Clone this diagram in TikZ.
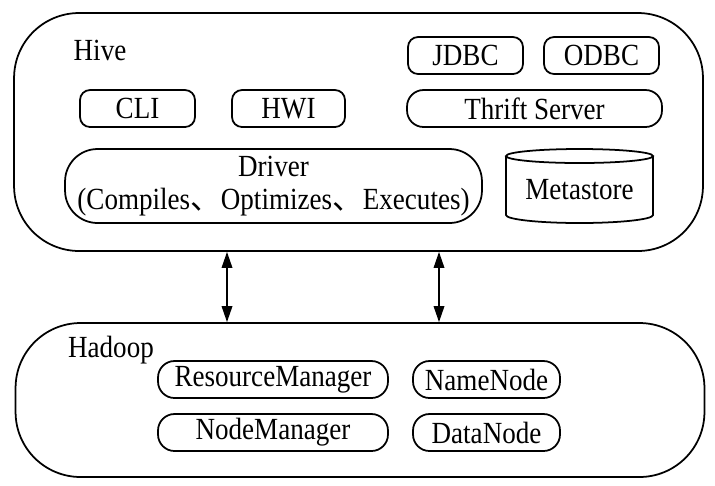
\documentclass[tikz,border=0pt]{standalone}
\usepackage{fontspec}
\setmainfont{Liberation Serif}[FakeStretch=0.88]
\newfontfamily\cjk{Noto Sans CJK SC}
\usetikzlibrary{arrows.meta}

\begin{document}
\begin{tikzpicture}[x=0.02cm,y=-0.02cm,line width=1pt,
	>={Triangle[length=0.32cm,width=0.21cm]},
	every node/.style={font=\fontsize{17.5}{19}\selectfont},
	layer/.style={draw,rounded corners=1.3cm,minimum width=13.78cm,minimum height=#1},
	part/.style={draw,rounded corners=0.2cm,minimum height=0.74cm,inner sep=0pt},
	pill/.style={draw,rounded corners=0.33cm,minimum height=0.74cm,inner sep=0pt}]
	\useasboundingbox (0,0) rectangle (715,485);
	% Hive
	\node[layer=4.76cm] (hive) at (358.5,132) {};
	\node (hivename) at (100,50) {Hive};
	\node[part,minimum width=2.3cm] (jdbc) at (465.5,55.5) {JDBC};
	\node[part,minimum width=2.3cm] (odbc) at (601.5,55.5) {ODBC};
	\node[part,minimum width=2.3cm] (cli) at (137.5,108.5) {CLI};
	\node[part,minimum width=2.26cm] (hwi) at (288.5,108.5) {HWI};
	\node[pill,minimum width=5.1cm] (thrift) at (534.5,108.5) {Thrift Server};
	\node[draw,rounded corners=0.65cm,minimum width=8.34cm,minimum height=1.48cm,align=center] (driver) at (273.5,186) {Driver\\(Compiles{\cjk 、}Optimizes{\cjk 、}Executes)};
	\draw (506,156) -- (506,215) arc[start angle=180,end angle=0,x radius=73.5,y radius=8] -- (653,156);
	\draw (579.5,156) ellipse [x radius=73.5,y radius=7];
	\node (metastore) at (579.5,190) {Metastore};
	% Hadoop
	\node[layer=3.08cm] (hadoop) at (360,400) {};
	\node (hadoopname) at (111,350) {Hadoop};
	\node[pill,minimum width=4.6cm] (rm) at (273,379.5) {ResourceManager};
	\node[pill,minimum width=2.94cm] (nn) at (486.5,379.5) {NameNode};
	\node[pill,minimum width=4.6cm] (nm) at (273,432.5) {NodeManager};
	\node[pill,minimum width=2.94cm] (dn) at (486.5,432.5) {DataNode};
	% links
	\coordinate (linka) at (227,0);
	\coordinate (linkb) at (439,0);
	\draw[<->] (hive.south -| linka) -- (hadoop.north -| linka);
	\draw[<->] (hive.south -| linkb) -- (hadoop.north -| linkb);
\end{tikzpicture}
\end{document}
